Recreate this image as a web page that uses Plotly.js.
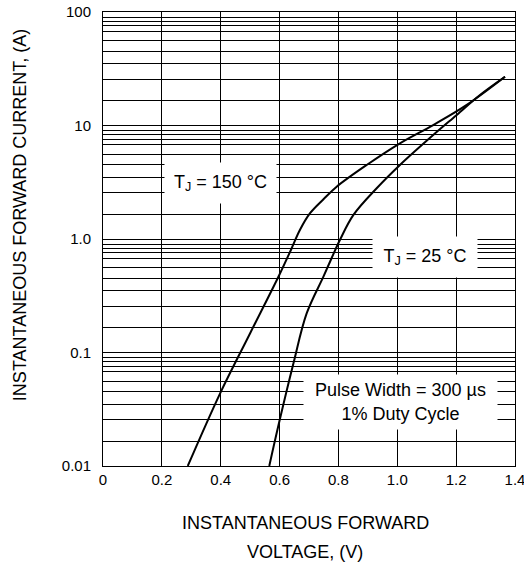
<!DOCTYPE html>
<html>
<head>
<meta charset="utf-8">
<script src="https://cdn.plot.ly/plotly-3.0.1.min.js"></script>
<style>html,body{margin:0;padding:0;background:#fff;}#chart{width:524px;height:567px;}</style>
</head>
<body>
<div id="chart"></div>
<script>
// Forward voltage (V) and current (A)
const vf150 = [0.288, 0.398, 0.500, 0.599, 0.640, 0.669, 0.703, 0.750, 0.794, 0.896, 1.009, 1.122, 1.236, 1.366];
const if150 = [0.01, 0.0437, 0.148, 0.482, 0.817, 1.2, 1.68, 2.25, 2.89, 4.49, 6.97, 10.1, 15.2, 26.9];
const vf25 = [0.565, 0.599, 0.647, 0.692, 0.749, 0.777, 0.805, 0.851, 0.930, 1.009, 1.122, 1.202, 1.281, 1.366];
const if25 = [0.01, 0.0245, 0.080, 0.221, 0.466, 0.68, 0.98, 1.63, 2.80, 4.49, 8.24, 12.4, 18.6, 26.9];

const xTickVals = [0, 0.2, 0.4, 0.6, 0.8, 1.0, 1.2, 1.4];
const xTickText = ["0", "0.2", "0.4", "0.6", "0.8", "1.0", "1.2", "1.4"];
const yTickVals = [0.01, 0.1, 1, 10, 100];
const yTickText = ["0.01", "0.1", "1.0", "10", "100"];
const gridMultipliers = [1.65, 2.55, 3.5, 4.5, 5.6, 6.8, 7.6, 8.3, 9.0];
const decades = [0.01, 0.1, 1, 10];

const minorY = [];
decades.forEach(d => gridMultipliers.forEach(m => minorY.push(d * m)));

const font = "Liberation Sans, Arial, sans-serif";
const lineStyle = {color: "black", width: 2, shape: "spline", smoothing: 1};

const data = [
  {x: vf150, y: if150, mode: "lines", line: lineStyle, hoverinfo: "skip"},
  {x: vf25, y: if25, mode: "lines", line: lineStyle, hoverinfo: "skip"}
];

const layout = {
  width: 524, height: 567,
  margin: {l: 103, r: 9, t: 12, b: 101},
  paper_bgcolor: "white", plot_bgcolor: "white",
  showlegend: false,
  font: {family: font, color: "black", size: 15},
  xaxis: {
    range: [0, 1.4], tickmode: "array", tickvals: xTickVals, ticktext: xTickText,
    showgrid: true, gridcolor: "black", gridwidth: 1, zeroline: false,
    showline: true, linecolor: "black", linewidth: 1, mirror: true,
    ticks: "", ticklabelstandoff: 0, ticklabeloverflow: "allow",
    tickfont: {size: 15, family: font}
  },
  yaxis: {
    type: "log", range: [-2, 2], tickmode: "array", tickvals: yTickVals, ticktext: yTickText,
    showgrid: true, gridcolor: "black", gridwidth: 1, zeroline: false,
    showline: true, linecolor: "black", linewidth: 1, mirror: true,
    ticks: "", ticklabelstandoff: 8, ticklabeloverflow: "allow",
    tickfont: {size: 15, family: font},
    minor: {tickmode: "array", tickvals: minorY, showgrid: true, gridcolor: "black", gridwidth: 1, ticks: ""}
  },
  annotations: [
    {xref: "paper", yref: "paper", x: 0.2864, y: 0.6233, xanchor: "center", yanchor: "middle",
     text: "T<sub>J</sub> = 150 °C", showarrow: false, bgcolor: "white", width: 111, height: 40,
     borderpad: 0, font: {size: 18, family: font}},
    {xref: "paper", yref: "paper", x: 0.7816, y: 0.4604, xanchor: "center", yanchor: "middle",
     text: "T<sub>J</sub> = 25 °C", showarrow: false, bgcolor: "white", width: 104, height: 40,
     borderpad: 0, font: {size: 18, family: font}},
    {xref: "paper", yref: "paper", x: 0.7233, y: 0.141, xanchor: "center", yanchor: "middle",
     text: "Pulse Width = 300 µs<br>1% Duty Cycle", showarrow: false, bgcolor: "white", width: 193, height: 54,
     borderpad: 0, font: {size: 18, family: font}},
    {xref: "paper", yref: "paper", x: -0.201, y: 0.553, xanchor: "center", yanchor: "middle",
     text: "INSTANTANEOUS FORWARD CURRENT, (A)", textangle: -90, showarrow: false,
     font: {size: 18, family: font}},
    {xref: "paper", yref: "paper", x: 0.491, y: -0.126, xanchor: "center", yanchor: "middle",
     text: "INSTANTANEOUS FORWARD", showarrow: false, font: {size: 18, family: font}},
    {xref: "paper", yref: "paper", x: 0.491, y: -0.19, xanchor: "center", yanchor: "middle",
     text: "VOLTAGE, (V)", showarrow: false, font: {size: 18, family: font}}
  ]
};

Plotly.newPlot("chart", data, layout, {staticPlot: true, displayModeBar: false});
</script>
</body>
</html>
